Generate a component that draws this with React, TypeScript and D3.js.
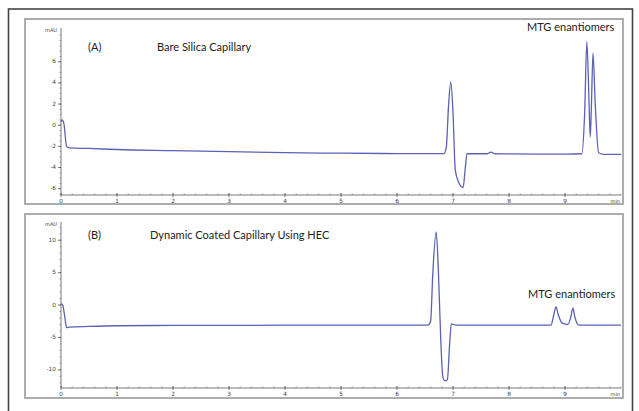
import { scaleLinear, line, curveMonotoneX, range } from "d3";

// Panel A: bare silica capillary (time in min, signal in mAU)
const timeA = [0, 0.02, 0.05, 0.1, 0.15, 0.5, 1, 2, 3, 4, 5, 6, 6.84, 6.88, 6.92, 6.96, 7.0, 7.04, 7.1, 7.18, 7.22, 7.25, 7.3, 7.6, 7.68, 7.75, 8, 9, 9.3, 9.35, 9.39, 9.43, 9.45, 9.47, 9.5, 9.54, 9.6, 9.7, 10];
const valA = [0.3, 0.5, 0.2, -2.0, -2.15, -2.2, -2.3, -2.4, -2.5, -2.6, -2.65, -2.68, -2.68, -2.1, 1.8, 4.1, 1.2, -4.2, -5.4, -5.9, -4.0, -2.7, -2.7, -2.7, -2.55, -2.7, -2.72, -2.73, -2.7, 1.0, 7.9, 2.0, -1.1, 1.5, 6.8, 2.0, -2.6, -2.75, -2.75];

// Panel B: dynamic coated capillary using HEC
const timeB = [0, 0.03, 0.07, 0.1, 0.15, 0.5, 1, 2, 3, 4, 5, 6, 6.55, 6.6, 6.64, 6.7, 6.74, 6.78, 6.82, 6.86, 6.9, 6.94, 6.97, 7.05, 8, 8.75, 8.8, 8.84, 8.88, 8.95, 9.05, 9.1, 9.14, 9.18, 9.25, 10];
const valB = [0.2, 0, -2, -3.5, -3.4, -3.3, -3.2, -3.15, -3.15, -3.1, -3.1, -3.1, -3.1, -2.5, 5, 11.3, 5, -5, -11.2, -11.7, -11.5, -6, -2.9, -3.1, -3.1, -3.1, -1.5, -0.3, -1.5, -2.8, -3.0, -2.0, -0.5, -2.0, -3.1, -3.1];

const xTicks = [0, 1, 2, 3, 4, 5, 6, 7, 8, 9];
const yTicksA = [-6, -4, -2, 0, 2, 4, 6];
const yTicksB = [-10, -5, 0, 5, 10];

const LINE = "#5c61b3";
const FONT = "Lato, 'Open Sans', sans-serif";
const TICKFONT = "'DejaVu Sans', sans-serif";

interface PanelProps {
  box: [number, number, number, number];
  yTop: number; yBot: number;
  yDomain: [number, number];
  yTicks: number[]; yMinor: number;
  times: number[]; vals: number[];
  label: string; title: string; titleX: number; titleY: number;
  mtgX: number; mtgY: number;
}

function Panel(p: PanelProps) {
  const [bx, by, bw, bh] = p.box;
  const x = scaleLinear().domain([0, 10]).range([61, 621]);
  const y = scaleLinear().domain(p.yDomain).range([p.yBot, p.yTop]);
  const pts = p.times.map((t, i) => [t, p.vals[i]] as [number, number]);
  const path = line<[number, number]>().x(d => x(d[0])).y(d => y(d[1])).curve(curveMonotoneX)(pts) ?? "";
  const minorY = range(Math.ceil(p.yDomain[0] / p.yMinor) * p.yMinor, p.yDomain[1], p.yMinor);
  const minorX = range(0, 10.01, 0.2);
  return (
    <g>
      <rect x={bx} y={by} width={bw} height={bh} fill="none" stroke="#999" strokeWidth={1.6} />
      {/* axes */}
      <line x1={x(0)} x2={x(0)} y1={p.yTop - 2} y2={p.yBot} stroke="#555" strokeWidth={0.8} />
      <line x1={x(0)} x2={x(10)} y1={p.yBot} y2={p.yBot} stroke="#555" strokeWidth={0.8} />
      {minorY.map(v => (
        <line key={"my" + v} x1={x(0) - 1.5} x2={x(0)} y1={y(v)} y2={y(v)} stroke="#666" strokeWidth={0.6} />
      ))}
      {p.yTicks.map(v => (
        <g key={"y" + v}>
          <line x1={x(0) - 3} x2={x(0)} y1={y(v)} y2={y(v)} stroke="#555" strokeWidth={0.8} />
          <text x={x(0) - 5} y={y(v)} textAnchor="end" dominantBaseline="middle" fontSize={5.8} fill="#444" fontFamily={TICKFONT}>{v}</text>
        </g>
      ))}
      <text x={x(0) - 4} y={p.yTop + 2} textAnchor="end" fontSize={5} fill="#444" fontFamily={TICKFONT}>mAU</text>
      {minorX.map(v => (
        <line key={"mx" + v} x1={x(v)} x2={x(v)} y1={p.yBot - 1.5} y2={p.yBot} stroke="#666" strokeWidth={0.6} />
      ))}
      {xTicks.map(v => (
        <g key={"x" + v}>
          <line x1={x(v)} x2={x(v)} y1={p.yBot - 2} y2={p.yBot + 2} stroke="#555" strokeWidth={0.8} />
          <text x={x(v)} y={p.yBot + 8} textAnchor="middle" fontSize={5.8} fill="#444" fontFamily={TICKFONT}>{v}</text>
        </g>
      ))}
      <text x={x(10) - 1} y={p.yBot + 8} textAnchor="end" fontSize={5} fill="#444" fontFamily={TICKFONT}>min</text>
      <path d={path} fill="none" stroke={LINE} strokeWidth={1.3} strokeLinejoin="round" />
      <text x={88} y={p.titleY} fontSize={11} fill="#222" fontFamily={FONT}>{p.label}</text>
      <text x={p.titleX} y={p.titleY} fontSize={11} fill="#222" fontFamily={FONT}>{p.title}</text>
      <text x={p.mtgX} y={p.mtgY} fontSize={11} fill="#222" fontFamily={FONT}>MTG enantiomers</text>
    </g>
  );
}

export default function App() {
  return (
    <svg width={639} height={411} style={{ position: "absolute", left: 0, top: 0, background: "#fff" }}>
      <rect x={8.5} y={9} width={624} height={410} fill="none" stroke="#444" strokeWidth={1.6} />
      <Panel box={[25, 19, 598, 185]} yTop={30} yBot={195} yDomain={[-6.6, 9]} yTicks={yTicksA} yMinor={0.5}
        times={timeA} vals={valA} label="(A)" title="Bare Silica Capillary" titleX={157} titleY={51}
        mtgX={527} mtgY={31} />
      <Panel box={[25, 214, 598, 184]} yTop={224} yBot={388} yDomain={[-12.8, 12.5]} yTicks={yTicksB} yMinor={1}
        times={timeB} vals={valB} label="(B)" title="Dynamic Coated Capillary Using HEC" titleX={150} titleY={239}
        mtgX={528} mtgY={298} />
    </svg>
  );
}
